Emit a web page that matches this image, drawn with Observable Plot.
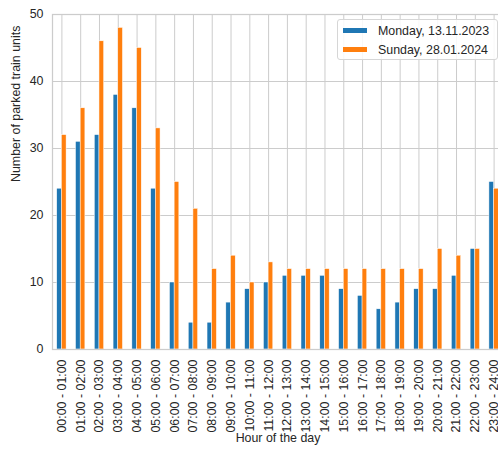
<!DOCTYPE html>
<html>
<head>
<meta charset="utf-8">
<script src="https://cdn.jsdelivr.net/npm/d3@7"></script>
<script src="https://cdn.jsdelivr.net/npm/@observablehq/plot@0.6"></script>
<style>
  html, body { margin: 0; padding: 0; background: white; overflow: hidden; }
  #chart { position: relative; width: 498px; height: 450px; overflow: hidden; }
  #chart svg { max-width: none !important; }
  .legend {
    position: absolute; left: 337px; top: 19px; width: 159px; height: 39px;
    border: 1px solid #d6d6d6; border-radius: 3px; background: rgba(255,255,255,0.85);
    font-family: "Liberation Sans", Arial, sans-serif; font-size: 12.4px; color: #262626;
  }
  .legend .row { position: absolute; left: 5px; height: 19px; display: flex; align-items: center; }
  .legend .sw { width: 24px; height: 5px; margin-right: 11px; }
</style>
</head>
<body>
<div id="chart"></div>
<script>
// Hourly slots of the day
const hours = [
  "00:00 - 01:00", "01:00 - 02:00", "02:00 - 03:00", "03:00 - 04:00",
  "04:00 - 05:00", "05:00 - 06:00", "06:00 - 07:00", "07:00 - 08:00",
  "08:00 - 09:00", "09:00 - 10:00", "10:00 - 11:00", "11:00 - 12:00",
  "12:00 - 13:00", "13:00 - 14:00", "14:00 - 15:00", "15:00 - 16:00",
  "16:00 - 17:00", "17:00 - 18:00", "18:00 - 19:00", "19:00 - 20:00",
  "20:00 - 21:00", "21:00 - 22:00", "22:00 - 23:00", "23:00 - 24:00"
];

// Parked train units per hour
const monday = [24, 31, 32, 38, 36, 24, 10, 4, 4, 7, 9, 10, 11, 11, 11, 9, 8, 6, 7, 9, 9, 11, 15, 25];
const sunday = [32, 36, 46, 48, 45, 33, 25, 21, 12, 14, 10, 13, 12, 12, 12, 12, 12, 12, 12, 12, 15, 14, 15, 24];

const seriesNames = ["Monday, 13.11.2023", "Sunday, 28.01.2024"];
const seriesColors = ["#1f77b4", "#ff7f0e"];
const yTicks = [0, 10, 20, 30, 40, 50];

// Each series takes a quarter of a slot, side by side around the slot centre
const barWidth = 0.25;
const rows = hours.flatMap((h, i) => [
  {i, series: seriesNames[0], value: monday[i], x1: i - barWidth, x2: i},
  {i, series: seriesNames[1], value: sunday[i], x1: i, x2: i + barWidth}
]);
const slots = d3.range(hours.length);

const textColor = "#262626";
const gridColor = "#cccccc";

const chart = Plot.plot({
  width: 510,
  height: 450,
  marginLeft: 52,
  marginRight: 7,
  marginTop: 14,
  marginBottom: 101,
  style: {fontFamily: "'Liberation Sans', Arial, sans-serif", fontSize: "12.4px", color: textColor, background: "white", overflow: "visible"},
  x: {domain: [-0.5, hours.length - 0.5]},
  y: {domain: [0, 50]},
  color: {domain: seriesNames, range: seriesColors},
  marks: [
    Plot.gridX(slots, {stroke: gridColor, strokeOpacity: 1, strokeWidth: 1}),
    Plot.gridY(yTicks, {stroke: gridColor, strokeOpacity: 1, strokeWidth: 1}),
    Plot.rectY(rows, {x1: "x1", x2: "x2", y1: 0, y2: "value", fill: "series", stroke: "white", strokeWidth: 0.5}),
    Plot.frame({stroke: gridColor, strokeWidth: 1.25}),
    Plot.axisX(slots, {
      tickFormat: i => hours[i], tickRotate: -90, tickSize: 0, tickPadding: 10,
      label: null, fill: textColor
    }),
    Plot.axisY(yTicks, {tickSize: 0, tickPadding: 9, label: null, fill: textColor}),
    Plot.text(["Hour of the day"], {frameAnchor: "bottom", dy: 92, fontSize: 12.4, fill: textColor}),
    Plot.text(["Number of parked train units"], {frameAnchor: "left", dx: -36, rotate: -90, fontSize: 12.4, fill: textColor})
  ]
});

const host = document.getElementById("chart");
host.appendChild(chart);

// Legend box in the upper right corner
const legend = document.createElement("div");
legend.className = "legend";
seriesNames.forEach((name, k) => {
  const row = document.createElement("div");
  row.className = "row";
  row.style.top = (1 + k * 19) + "px";
  const sw = document.createElement("span");
  sw.className = "sw";
  sw.style.background = seriesColors[k];
  const label = document.createElement("span");
  label.textContent = name;
  row.appendChild(sw);
  row.appendChild(label);
  legend.appendChild(row);
});
host.appendChild(legend);
</script>
</body>
</html>
